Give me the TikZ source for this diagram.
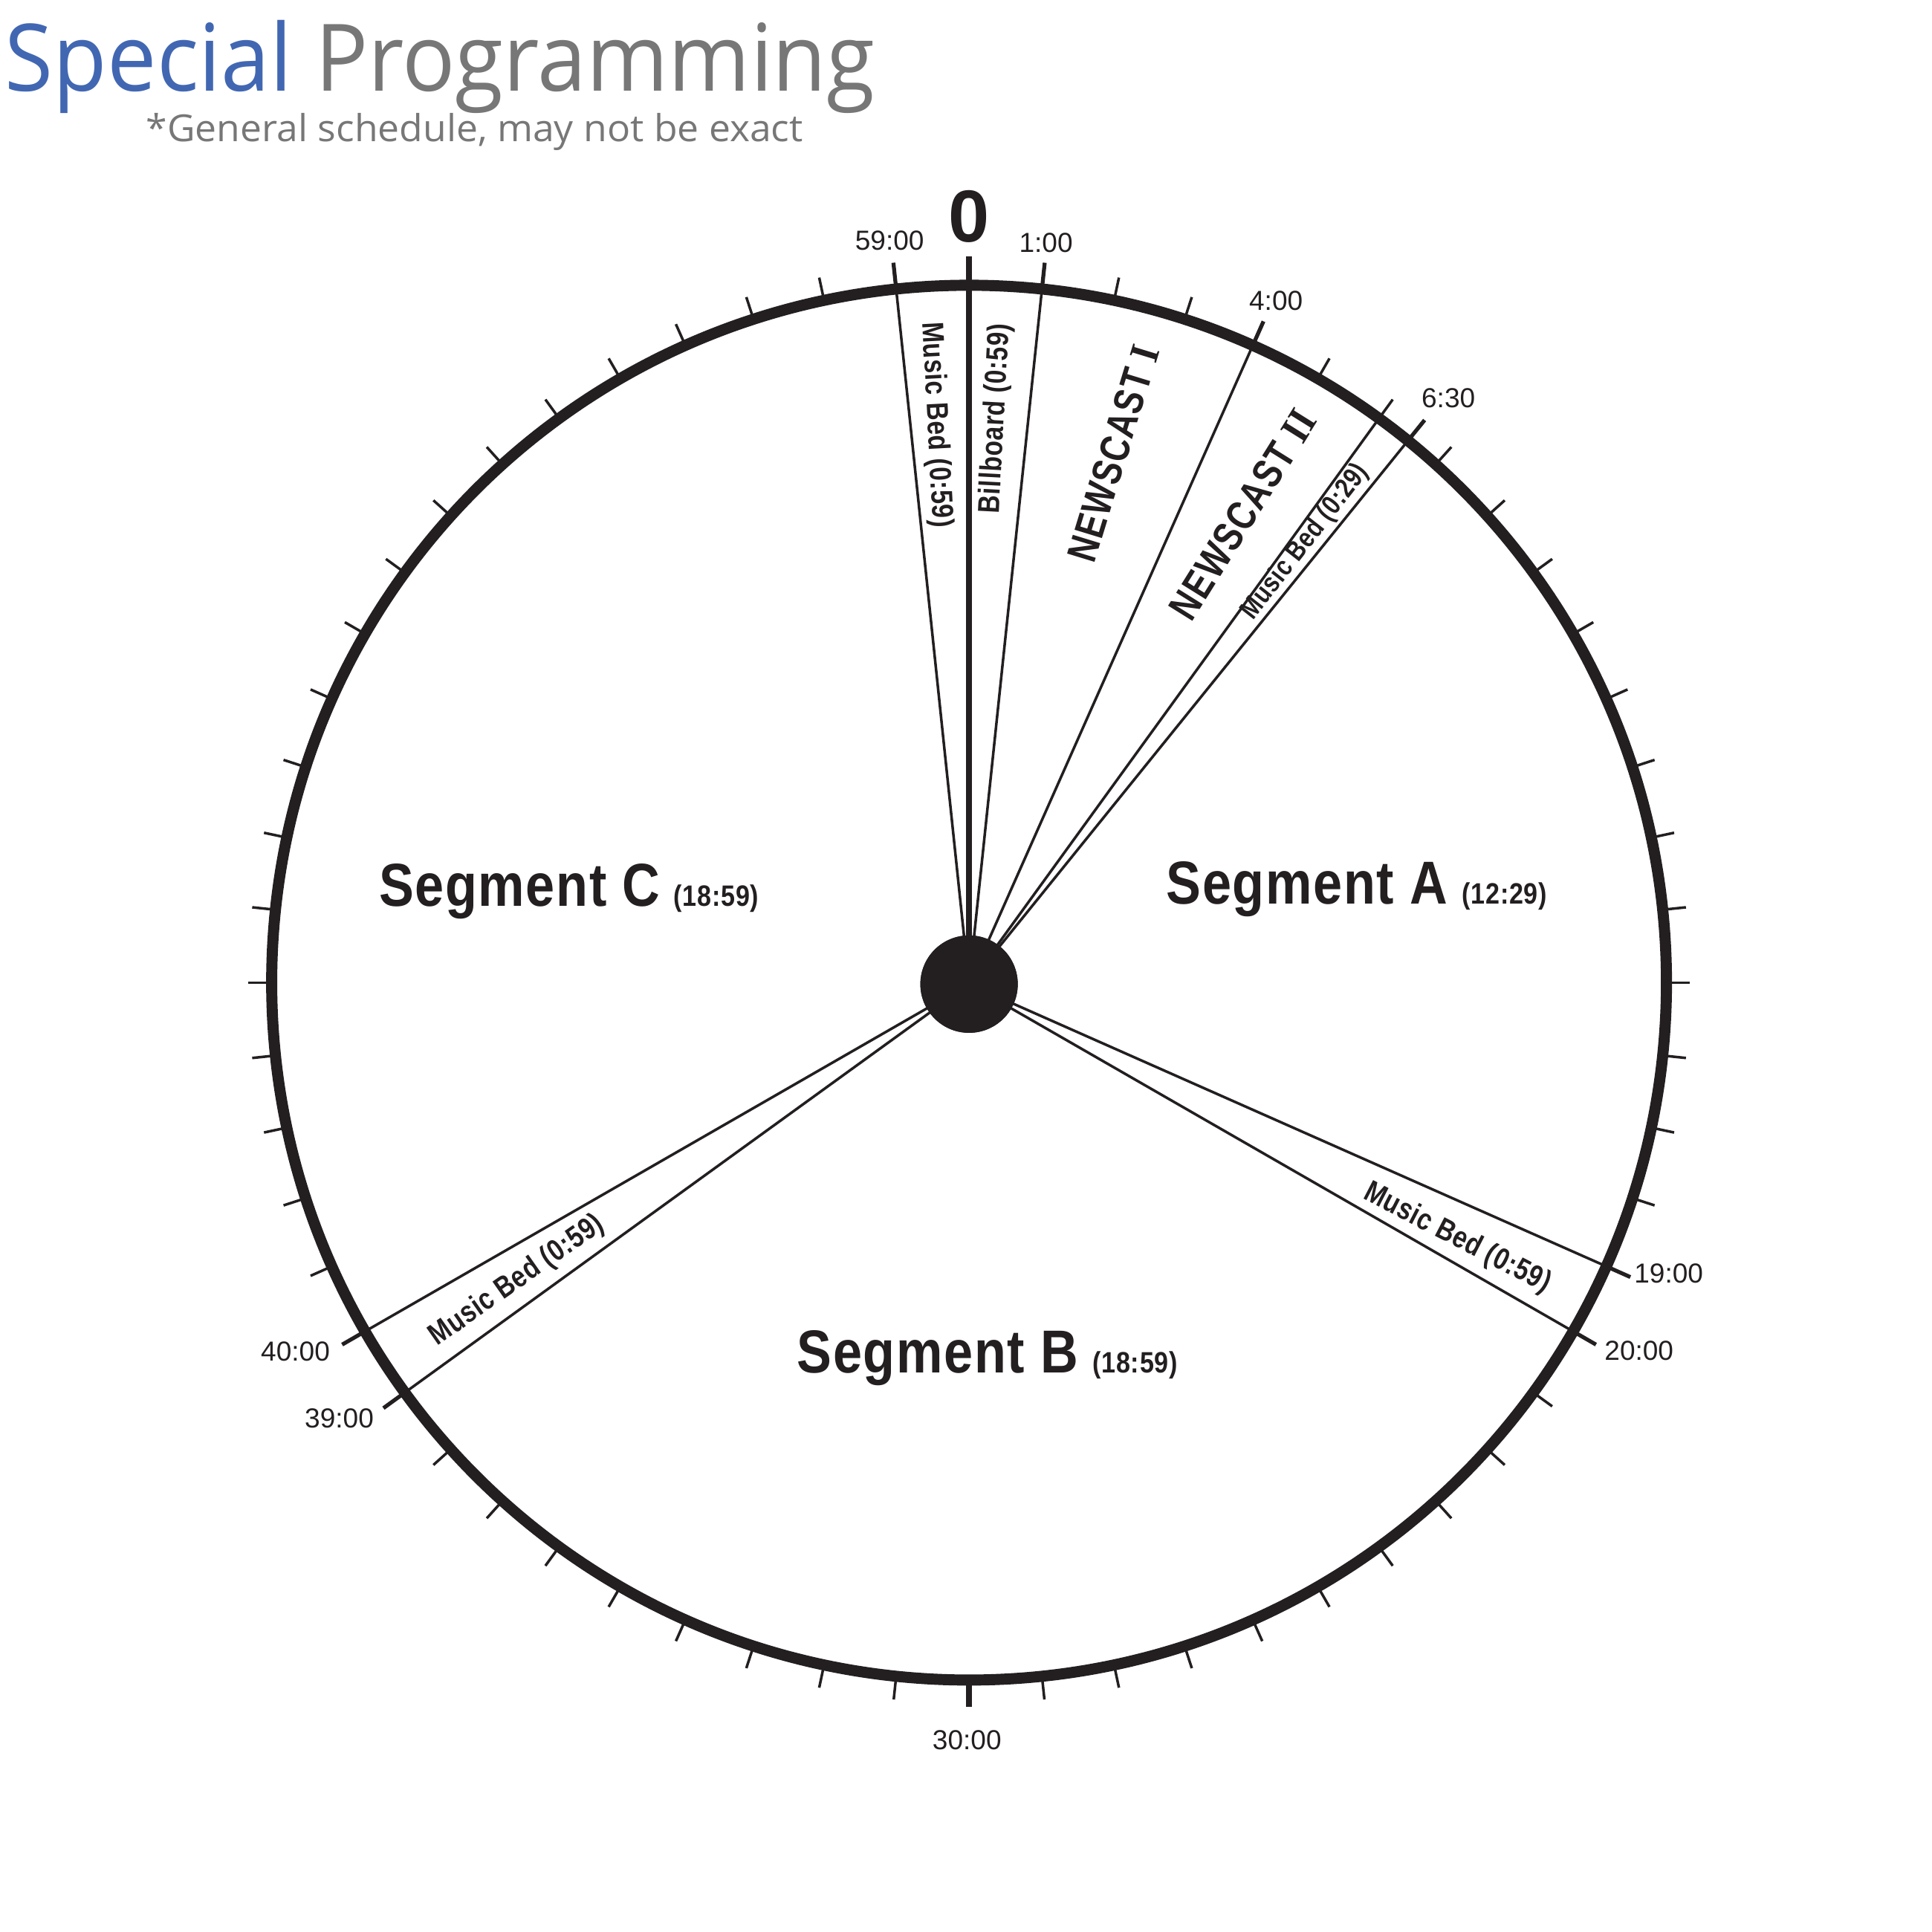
\documentclass[tikz,border=0pt]{standalone}
\usepackage{fontspec}
\setmainfont{Liberation Sans}
\newfontfamily\titlefont[FakeStretch=0.945]{Open Sans}
\newfontfamily\subfont[FakeStretch=1.03]{Open Sans}
\newfontfamily\segfont[FakeStretch=0.86,LetterSpace=2]{Liberation Sans}
\newfontfamily\lblfont[FakeStretch=0.82,LetterSpace=2]{Liberation Sans}
\newfontfamily\nwsfont[FakeStretch=0.8,LetterSpace=3]{Liberation Sans}
\newfontfamily\romfont[FakeStretch=0.9]{Liberation Serif}
\definecolor{ink}{HTML}{231F20}
\definecolor{titleblue}{HTML}{4267B2}
\definecolor{titlegray}{HTML}{777777}
\tikzset{
  ring/.style={draw=ink, line width=2.56pt},
  spoke/.style={draw=ink, line width=0.6pt},
  mainspoke/.style={draw=ink, line width=1.25pt},
  minortick/.style={draw=ink, line width=0.6pt},
  majortick/.style={draw=ink, line width=0.9pt},
  timelbl/.style={inner sep=0, text=ink, font=\fontsize{6.35}{7}\selectfont},
  zerolbl/.style={inner sep=0, text=ink, font=\bfseries\fontsize{17}{18}\selectfont},
  seglbl/.style={inner sep=0, text=ink, font=\segfont\bfseries\fontsize{14}{16}\selectfont},
  segsub/.style={inner sep=0, text=ink, font=\segfont\bfseries\fontsize{6.8}{8}\selectfont},
  radlbl/.style={inner sep=0, text=ink, font=\lblfont\bfseries\fontsize{7}{8}\selectfont},
  radsmall/.style={inner sep=0, text=ink, font=\lblfont\bfseries\fontsize{6.4}{7}\selectfont},
  nwslbl/.style={inner sep=0, text=ink, font=\nwsfont\bfseries\fontsize{9.6}{11}\selectfont},
}
\begin{document}
\begin{tikzpicture}[x=0.01cm,y=0.01cm]
\useasboundingbox (-786.5,-770.5) rectangle (781.5,797.5);
\fill[white] (-786.5,-770.5) rectangle (781.5,797.5);

% hub
\node[circle, fill=ink, minimum size=0.79cm, inner sep=0] (hub) at (0,-1.2) {};

% spokes
\foreach \m/\nm in {59/r59, 1/r1, 4/r4, 6/r6, 6.5/r6h, 19/r19, 20/r20, 39/r39, 40/r40} {
  \coordinate (\nm) at ({90-6*\m}:566);
  \draw[spoke] (hub.center) -- (\nm);
}
\coordinate (r0) at (90:589.6);
\draw[mainspoke] (hub.center) -- (r0);

% ring
\draw[ring] (0,0) circle (566);

% ticks
\foreach \m in {0,...,59} {
  \draw[minortick] ({90-6*\m}:566) -- ({90-6*\m}:585);
}
\foreach \m in {1,4,6.5,19,20,39,40,59} {
  \draw[majortick] ({90-6*\m}:566) -- ({90-6*\m}:587.5);
}
\draw[mainspoke] (-90:566) -- (-90:588);

% hub on top
\node[circle, fill=ink, minimum size=0.79cm, inner sep=0] (hubtop) at (0,-1.2) {};

% title
\node[anchor=base west, inner sep=0, font=\titlefont\fontsize{21.5}{24}\selectfont] (title) at (-783,723.5)
  {\textcolor{titleblue}{Special} \textcolor{titlegray}{Programming}};
\node[anchor=base west, inner sep=0, text=titlegray, font=\subfont\fontsize{8.6}{10}\selectfont] (subtitle) at (-668.5,682.9)
  {*General schedule, may not be exact};

% time labels
\node[zerolbl, anchor=base] (t0) at (0,601.5) {0};
\node[timelbl, anchor=base] (t59) at (-64.5,594.5) {59:00};
\node[timelbl, anchor=base] (t1) at (62.4,592.5) {1:00};
\node[timelbl, anchor=base] (t4) at (249.1,545.5) {4:00};
\node[timelbl, anchor=base] (t630) at (389,466.9) {6:30};
\node[timelbl, anchor=base west] (t19) at (539.2,-243.5) {19:00};
\node[timelbl, anchor=base west] (t20) at (515.1,-306.3) {20:00};
\node[timelbl, anchor=base east] (t40) at (-518.1,-307.2) {40:00};
\node[timelbl, anchor=base east] (t39) at (-482.5,-361.5) {39:00};
\node[timelbl, anchor=base] (t30) at (-1.7,-622.2) {30:00};

% segment labels
\node[seglbl, anchor=base west] (segA) at (159.5,64.1) {Segment A};
\node[segsub, anchor=base west] (segAt) at (399.3,64.1) {(12:29)};
\node[seglbl, anchor=base west] (segC) at (-479.5,62.1) {Segment C};
\node[segsub, anchor=base west] (segCt) at (-240.5,62.1) {(18:59)};
\node[seglbl, anchor=base west] (segB) at (-140.3,-316.7) {Segment B};
\node[segsub, anchor=base west] (segBt) at (99.5,-316.7) {(18:59)};

% rotated labels
\node[radlbl, rotate=-87] (mb59) at (-27.1,452.7) {Music Bed (0:59)};
\node[radlbl, rotate=87] (bb) at (21.9,457.9) {Billboard (0:59)};
\node[nwslbl, rotate=73] (nc1) at (117.2,429.6) {NEWSCAST {\romfont I}};
\node[nwslbl, rotate=58] (nc2) at (222.1,380.3) {NEWSCAST {\romfont II}};
\node[radsmall, rotate=52] (mb6) at (273,357.5) {Music Bed (0:29)};
\node[radlbl, rotate=-27.3] (mb19) at (396.1,-207.7) {Music Bed (0:59)};
\node[radlbl, rotate=35] (mb39) at (-366.9,-241.9) {Music Bed (0:59)};
\end{tikzpicture}
\end{document}
